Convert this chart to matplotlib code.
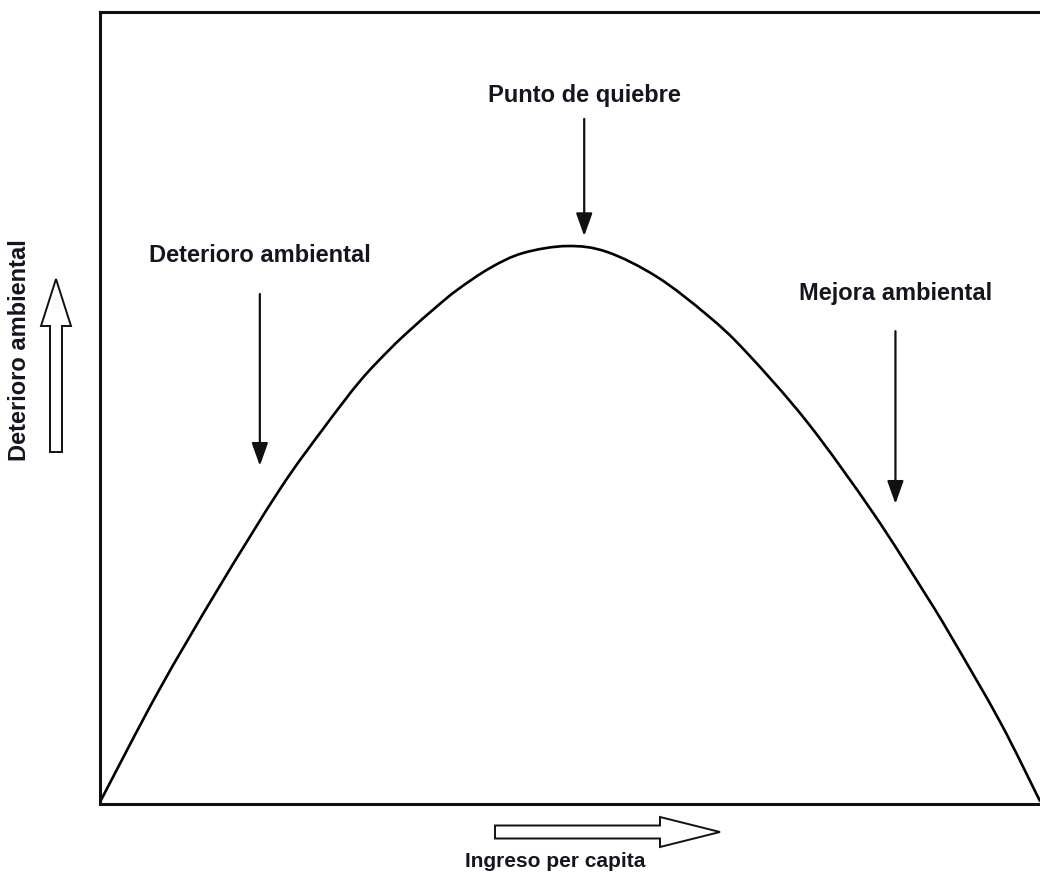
"""
Curva ambiental de Kuznets: deterioro ambiental frente a ingreso per capita.
"""
import matplotlib
matplotlib.use("Agg")
import matplotlib.pyplot as plt
import numpy as np
from matplotlib.patches import FancyArrow, PathPatch
from matplotlib.path import Path

# curve (x: income 0-100, y: deterioration 0-100)
ingreso = [0.0, 6.17, 12.55, 19.15, 23.72, 27.66, 30.85, 32.98, 35.64, 37.98,
           41.49, 45.00, 49.68, 53.94, 59.26, 64.57, 68.62, 75.21, 82.23,
           87.77, 90.43, 95.74, 100.0]
deterioro = [0.25, 14.14, 27.15, 39.77, 47.35, 53.41, 57.45, 59.85, 62.63,
             64.90, 67.68, 69.57, 70.45, 69.70, 66.54, 61.74, 57.20, 48.23,
             36.74, 26.52, 21.34, 10.35, 0.3]

# labels with (text x, text y, arrow start y, arrow end y)
etiquetas = ["Deterioro ambiental", "Punto de quiebre", "Mejora ambiental"]
etiqueta_x = [17.0, 51.5, 84.6]
etiqueta_y = [69.4, 89.6, 64.6]
flecha_desde = [64.4, 86.5, 59.7]
flecha_hasta = [42.7, 71.7, 37.9]

TEXT_COLOR = "#15151f"
plt.rcParams["font.family"] = ["Liberation Sans", "DejaVu Sans"]


def smooth_path(xs, ys):
    """Bezier path through the read points (Catmull-Rom tangents)."""
    pts = np.column_stack([xs, ys])
    n = len(pts)
    verts = [pts[0]]
    codes = [Path.MOVETO]
    for i in range(n - 1):
        p0 = pts[max(i - 1, 0)]
        p1 = pts[i]
        p2 = pts[i + 1]
        p3 = pts[min(i + 2, n - 1)]
        verts += [p1 + (p2 - p0) / 6, p2 - (p3 - p1) / 6, p2]
        codes += [Path.CURVE4] * 3
    return Path(verts, codes)


W, H = 1040, 878
fig = plt.figure(figsize=(W / 100, H / 100), dpi=100)
ax = fig.add_axes([100 / W, (H - 805) / H, 944 / W, 792 / H])
ax.add_patch(PathPatch(smooth_path(ingreso, deterioro), facecolor="none",
                       edgecolor="black", lw=1.9))
ax.set_xlim(0, 100.4)
ax.set_ylim(0, 100)
ax.set_xticks([])
ax.set_yticks([])
for side in ["left", "bottom", "top"]:
    ax.spines[side].set_linewidth(2.2)
    ax.spines[side].set_color("#111111")
ax.spines["right"].set_visible(False)

for txt, tx, ty, y0, y1 in zip(etiquetas, etiqueta_x, etiqueta_y,
                               flecha_desde, flecha_hasta):
    ax.text(tx, ty, txt, ha="center", va="center", fontsize=17,
            fontweight="bold", color=TEXT_COLOR)
    ax.annotate("", xy=(tx, y1), xytext=(tx, y0),
                arrowprops=dict(arrowstyle="-|>,head_length=0.7,head_width=0.25",
                                mutation_scale=20, lw=1.6, color="#111111",
                                shrinkA=0, shrinkB=0))

# overlay in pixel units for the hollow axis arrows and axis labels
over = fig.add_axes([0, 0, 1, 1], facecolor="none")
over.set_xlim(0, W)
over.set_ylim(H, 0)
over.axis("off")
over.add_patch(FancyArrow(56, 453, 0, -173, width=12, head_width=30,
                          head_length=47, length_includes_head=True,
                          facecolor="white", edgecolor="#111111", lw=1.4))
over.add_patch(FancyArrow(495, 833, 225, 0, width=13, head_width=30,
                          head_length=60, length_includes_head=True,
                          facecolor="white", edgecolor="#111111", lw=1.4))
over.text(20, 350, "Deterioro ambiental", rotation=90, ha="center",
          va="center", fontsize=17, fontweight="bold", color=TEXT_COLOR)
over.text(555, 862, "Ingreso per capita", ha="center", va="center",
          fontsize=15, fontweight="bold", color=TEXT_COLOR)

fig.savefig("out.png", dpi=100)
